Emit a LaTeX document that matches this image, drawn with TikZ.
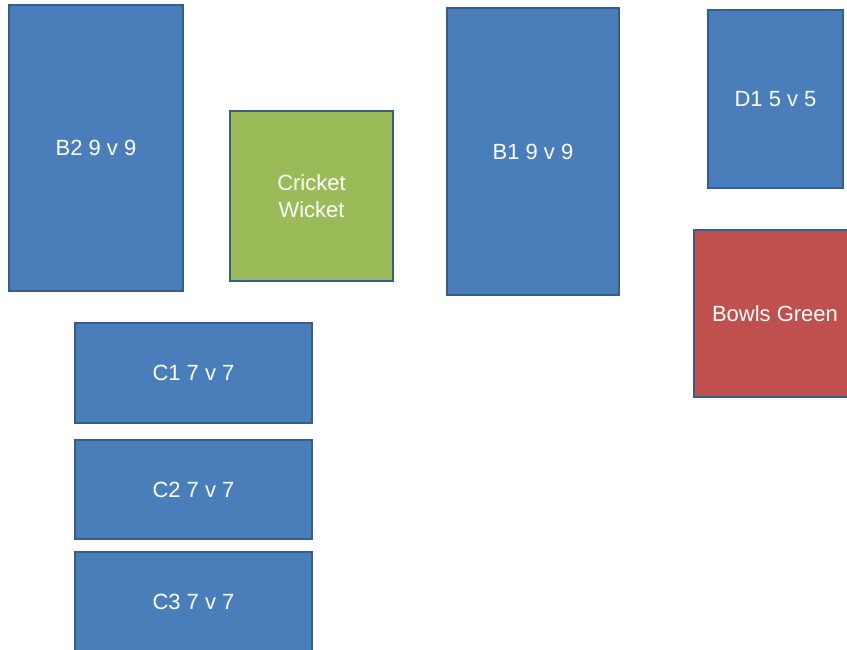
\documentclass[tikz,border=0pt]{standalone}
\usepackage{fontspec}
\setmainfont{Liberation Sans}
\definecolor{pitchblue}{HTML}{4A7EBB}
\definecolor{pitchline}{HTML}{385D8A}
\definecolor{wicketgreen}{HTML}{9BBB59}
\definecolor{bowlsred}{HTML}{C0504D}

\begin{document}
\begin{tikzpicture}[x=1pt, y=-1pt,
    area/.style={draw=pitchline, line width=2.8pt, fill=pitchblue, text=white,
      align=center, inner sep=0pt, font=\fontsize{22}{27}\selectfont}]
  \useasboundingbox (0,0) rectangle (847,650);
  % pitches
  \node[area, minimum width=174pt, minimum height=286pt] (b2) at (96,148) {B2 9 v 9};
  \node[area, fill=wicketgreen, minimum width=163pt, minimum height=170pt]
    (wicket) at (311.5,196) {Cricket\\Wicket};
  \node[area, minimum width=172pt, minimum height=287pt] (b1) at (533,151.5) {B1 9 v 9};
  \node[area, minimum width=135pt, minimum height=178pt] (d1) at (775.5,99) {D1 5 v 5};
  \node[area, fill=bowlsred, minimum width=162pt, minimum height=167pt]
    (bowls) at (775,313.5) {Bowls Green};
  % small sided pitches
  \node[area, minimum width=237pt, minimum height=100pt] (c1) at (193.5,373) {C1 7 v 7};
  \node[area, minimum width=237pt, minimum height=99pt] (c2) at (193.5,489.5) {C2 7 v 7};
  \node[area, minimum width=237pt, minimum height=100pt] (c3) at (193.5,602) {C3 7 v 7};
\end{tikzpicture}
\end{document}
